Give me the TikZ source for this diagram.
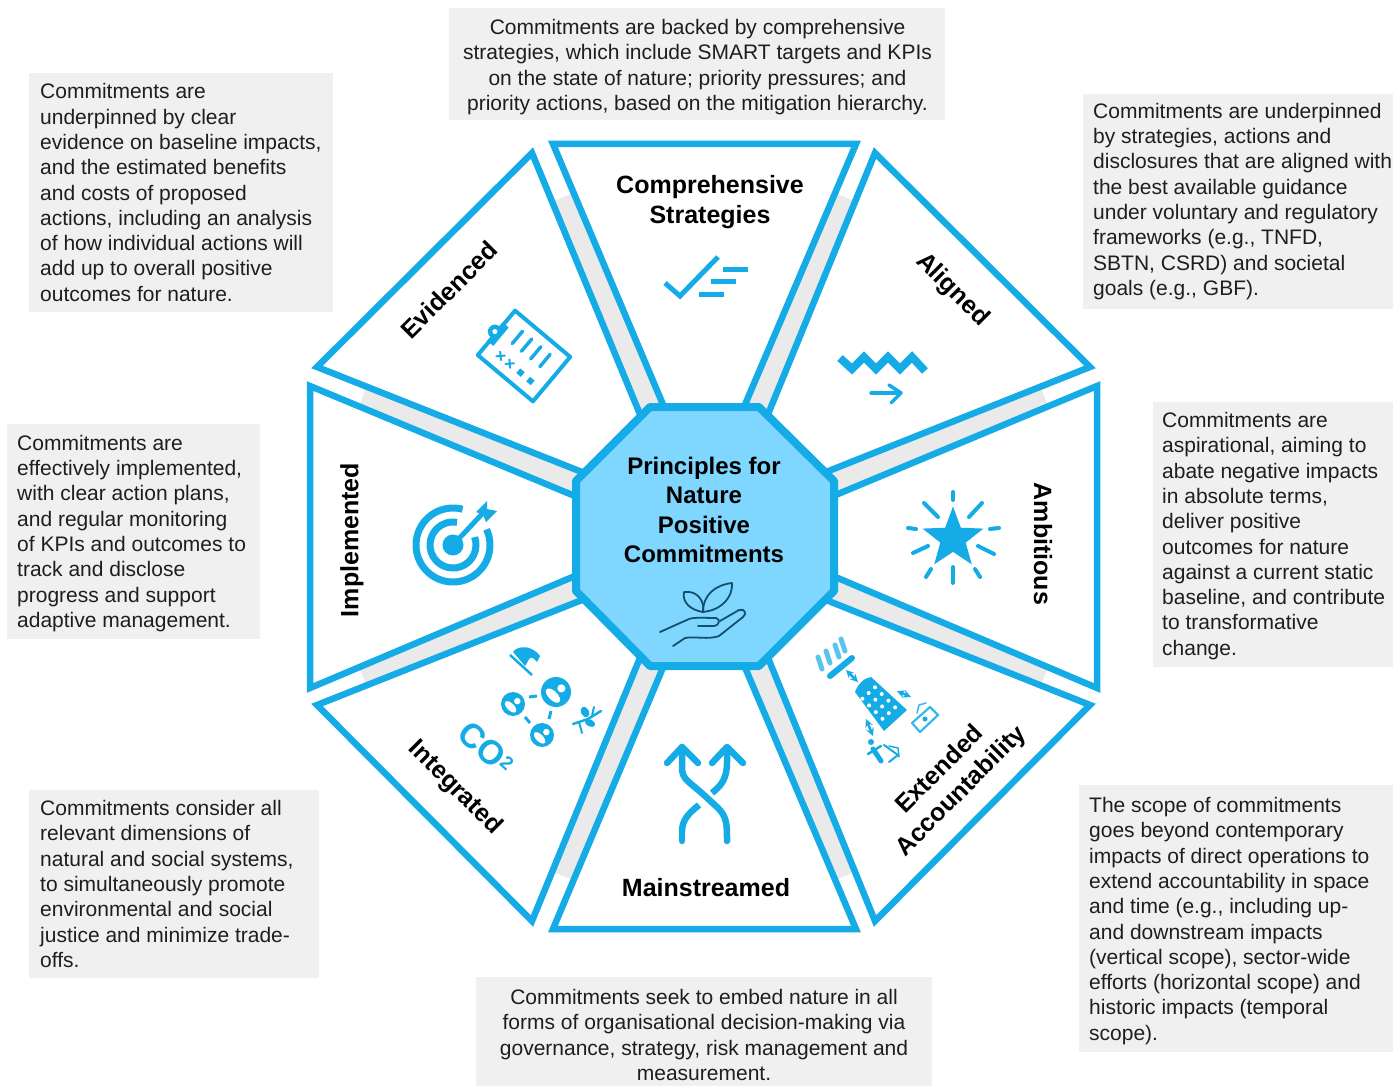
\documentclass[tikz,border=0pt]{standalone}
\usepackage{fontspec}
\setmainfont{Liberation Sans}
\usepackage{xcolor}
\usetikzlibrary{calc}
\usetikzlibrary{shapes.geometric}

\definecolor{natureblue}{HTML}{14ABE6}
\definecolor{centreblue}{HTML}{7FD7FF}
\definecolor{notegray}{HTML}{F0F0F0}
\definecolor{stripgray}{HTML}{EAEAEA}
\definecolor{handblue}{HTML}{14506E}
\definecolor{inktext}{HTML}{1E1E1E}

\begin{document}
\begin{tikzpicture}[x=1pt, y=-1pt, >=stealth,
    wedge/.style={draw=natureblue, line width=6.5pt, miter limit=20},
    strip/.style={fill=stripgray},
    notebg/.style={fill=notegray},
    note/.style={anchor=west, align=left, inner sep=0pt, text=inktext, font=\fontsize{21}{25.3}\selectfont},
    notemid/.style={note, anchor=center, align=center},
    title/.style={align=center, inner sep=0pt, text=black, font=\bfseries\fontsize{25}{30}\selectfont},
    icon/.style={draw=natureblue, line width=#1, line cap=round, line join=round},
    icon/.default=4pt,
    hand/.style={draw=handblue, line width=1.8pt, line cap=round, line join=round}
]
    \useasboundingbox (0,0) rectangle (1393,1086);

    % wedge corners, clockwise from the top
    \foreach \n/\ax/\ay/\bx/\by/\cx/\cy/\dx/\dy in {
        1/553/144/856/144/741/414/667/414,
        2/875/153/1090/367/816/476/764/424,
        3/1097/386/1097/688/826/573/826/499,
        4/1090/705/875/921/764/648/816/596,
        5/856/929/553/929/667/658/741/658,
        6/532/921/317/705/592/596/644/648,
        7/310/688/310/386/582/499/582/573,
        8/317/367/532/153/644/424/592/476}
    {
        \coordinate (w-\n-1) at (\ax,\ay);
        \coordinate (w-\n-2) at (\bx,\by);
        \coordinate (w-\n-3) at (\cx,\cy);
        \coordinate (w-\n-4) at (\dx,\dy);
    }

    % gray strips between the wedges
    \foreach \n in {1,2,3,4,5,6,7,8}
    {
        \pgfmathtruncatemacro{\nnext}{mod(\n,8)+1}
        \fill[strip] ($(w-\n-2)!0.18!(w-\n-3)$) -- (w-\n-3) -- (w-\nnext-4) -- ($(w-\nnext-1)!0.18!(w-\nnext-4)$) -- cycle;
    }

    \foreach \n in {1,2,3,4,5,6,7,8}
        \draw[wedge] (w-\n-1) -- (w-\n-2) -- (w-\n-3) -- (w-\n-4) -- cycle;

    % centre octagon
    \draw[draw=natureblue, fill=centreblue, line width=8pt, line join=round]
        (650,407) -- (759,407) -- (834,481) -- (834,591) -- (759,666) -- (650,666) -- (576,591) -- (576,481) -- cycle;
    \node[title, font=\bfseries\fontsize{24}{29.4}\selectfont] (centretitle) at (704,510) {Principles for\\Nature\\Positive\\Commitments};

    % plant in a hand
    \draw[hand] (684,592) .. controls (698,590) and (705,602) .. (703,612) .. controls (690,610) and (682,602) .. (684,592);
    \draw[hand] (703,612) .. controls (703,595) and (715,585) .. (732,583) .. controls (733,597) and (722,610) .. (703,612);
    \draw[hand] (660,632) -- (689,619) .. controls (695,617) and (705,618) .. (716,618) .. controls (721,619) and (719,626) .. (714,626) -- (698,626);
    \draw[hand] (720,621) -- (739,610) .. controls (745,608) and (747,614) .. (743,617) -- (719,636) .. controls (708,640) and (695,636) .. (685,638) -- (673,646);

    % wedge titles
    \node[title] (comprehensive) at (710,202) {Comprehensive\\Strategies};
    \node[title, rotate=-45] (aligned) at (952,290) {Aligned};
    \node[title, rotate=-90] (ambitious) at (1043,544) {Ambitious};
    \node[title, rotate=45] (extended) at (951,781) {Extended\\Accountability};
    \node[title] (mainstreamed) at (706,888) {Mainstreamed};
    \node[title, rotate=-45] (integrated) at (455,788) {Integrated};
    \node[title, rotate=90] (implemented) at (352,540) {Implemented};
    \node[title, rotate=45] (evidenced) at (449,290) {Evidenced};

    % check mark and bars
    \draw[icon=5pt, line cap=butt, line join=miter] (665,283) -- (680,296) -- (718,257);
    \foreach \ax/\bx/\y in {723/748/270, 711/736/282, 699/724/295}
        \draw[icon=5pt, line cap=butt] (\ax,\y) -- (\bx,\y);

    % clipboard
    \begin{scope}[shift={(524,356)}, rotate=50]
        \draw[icon=4pt] (-29,-36) rectangle (29,36);
        \fill[natureblue] (-12,-38) rectangle (12,-30);
        \fill[natureblue] (0,-38) circle[radius=7];
        \fill[white] (0,-38) circle[radius=2.5];
        \foreach \y in {-17,-5,7,19}
            \draw[icon=3.5pt] (2,\y) -- (18,\y);
        \foreach \y in {-18,-6}
        {
            \draw[icon=2pt] (-18,\y-3) -- (-12,\y+3);
            \draw[icon=2pt] (-18,\y+3) -- (-12,\y-3);
        }
        \foreach \y in {8,21}
            \fill[natureblue] (-18,\y-3) rectangle (-12,\y+3);
    \end{scope}

    % zigzag and arrow
    \draw[icon=8pt, line cap=butt, line join=miter] (840,358) -- (852,369) -- (864,357) -- (876,369) -- (888,357) -- (900,369) -- (912,357) -- (925,371);
    \draw[icon=3.5pt] (871,393) -- (900,393);
    \draw[icon=3.5pt] (889,385) -- (901,393) -- (891,403);

    % star and rays
    \node[star, star points=5, star point ratio=2.4, fill=natureblue, inner sep=0pt, minimum size=64pt] (starshape) at (953,538.5) {};
    \foreach \ax/\ay/\bx/\by in {953/492/953/500, 982/503/969/517, 990/529/999/528, 978/546/994/554, 975/569/980/577,
                                 953/567/953/583, 931/569/926/577, 928/546/913/553, 916/529/908/528, 938/517/924/503}
        \draw[icon=4pt] (\ax,\ay) -- (\bx,\by);

    % target
    \fill[natureblue] (453,545) circle[radius=10.5];
    \draw[icon=7pt, line cap=butt] (453,545) ++(-25:37) arc[start angle=-25, end angle=285, radius=37];
    \draw[icon=7pt, line cap=butt] (453,545) ++(-20:23) arc[start angle=-20, end angle=280, radius=23];
    \draw[icon=5pt, line cap=butt] (453,545) -- (482,514);
    \fill[natureblue] (476,512) -- (487,501) -- (487,509) -- (497,511) -- (486,522) -- (483,515) -- cycle;

    % crossing arrows
    \draw[icon=6.5pt] (682,747) -- (682,768) .. controls (682,780) and (690,782) .. (705,796) -- (718,808) .. controls (727,817) and (727,825) .. (727,841);
    \draw[icon=6.5pt] (667,763) -- (682,747) -- (698,763);
    \draw[icon=6.5pt, line cap=butt] (727,747) -- (727,762) .. controls (727,778) and (722,785) .. (712,793);
    \draw[icon=6.5pt] (712,763) -- (727,747) -- (743,763);
    \draw[icon=6.5pt, line cap=butt] (699,805) .. controls (688,814) and (682,820) .. (682,832);
    \draw[icon=6.5pt] (682,830) -- (682,841);

    % building, value chain and people
    \draw[icon=6pt] (830,676) -- (852,658);
    \foreach \ax/\ay/\bx/\by in {822/669/818/657, 830/663/826/651, 839/657/835/645, 845/651/841/639}
        \draw[icon=5pt, natureblue!70] (\ax,\ay) -- (\bx,\by);
    \draw[<->, icon=2.5pt] (846,670) -- (858,682);
    \fill[natureblue] (855,692) .. controls (858,684) and (864,678) .. (871,677) -- (907,710) -- (884,731) -- cycle;
    \foreach \i in {0,1,2,3}
        \foreach \j in {0,1,2}
            \fill[white] ({875+6.7*\i-6.3*\j},{687.3+6.7*\i+5.7*\j}) circle[radius=2];
    \draw[<->, icon=2.5pt] (897,691) -- (911,697);
    \draw[<->, icon=2.5pt] (866,719) -- (873,736);
    \draw[icon=2.2pt, natureblue!85] (912,723) -- (930,707) -- (938,715) -- (920,732) -- cycle;
    \draw[icon=1.5pt, natureblue!85] (917,713) -- (919,705) -- (926,703);
    \fill[natureblue] (925,719) circle[radius=2.5];
    \fill[natureblue] (871,742) circle[radius=3];
    \draw[icon=5pt] (873,749) -- (881,761);
    \draw[icon=2.5pt] (881,746) -- (868,754);
    \draw[icon=2pt] (884,745) -- (898,755) -- (889,762);
    \draw[icon=1.5pt] (889,746) -- (898,748) -- (899,757);

    % wave, people and plant
    \draw[icon=2.5pt, line cap=butt] (510,655) -- (532,675);
    \fill[natureblue] (513,652) .. controls (518,645) and (532,645) .. (540,656) -- (537,662) .. controls (534,658) and (531,657) .. (530,658) .. controls (528,660) and (527,664) .. (525,666) -- cycle;
    \foreach \px/\py/\r in {556/692/15, 513/704/12, 542/735/12}
    {
        \fill[natureblue] (\px,\py) circle[radius=\r];
        \fill[white] ({\px+0.36*\r},{\py-0.24*\r}) circle[radius=0.27*\r];
        \fill[white, rotate around={-45:({\px-0.2*\r},{\py+0.24*\r})}] ({\px-0.2*\r},{\py+0.24*\r}) ellipse[x radius=0.6*\r, y radius=0.3*\r];
    }
    \draw[icon=3pt, line cap=butt] (529,697) -- (537,696);
    \draw[icon=3pt, line cap=butt] (525,717) -- (530,723);
    \draw[icon=3pt, line cap=butt] (551,711) -- (549,719);
    \node[inner sep=0pt, text=natureblue, rotate=-42, font=\bfseries\fontsize{34}{34}\selectfont] (cotwo) at (486,748) {CO\raisebox{.45ex}{\fontsize{19}{19}\selectfont 2}};
    \draw[icon=2.5pt] (573,724) -- (588,719) -- (601,711);
    \draw[icon=2pt] (579,722) -- (582,733);
    \draw[icon=2pt] (592,716) -- (594,707);
    \fill[natureblue, rotate around={-60:(585,712)}] (585,712) ellipse[x radius=5.5, y radius=4];
    \fill[natureblue, rotate around={-25:(590,723)}] (590,723) ellipse[x radius=5.5, y radius=3.5];

    % note backgrounds
    \foreach \ax/\ay/\bx/\by in {449/8/945/120, 29/73/333/312, 1083/94/1393/309, 7/424/260/639,
                                 1153/402/1393/667, 29/790/319/978, 1079/785/1393/1052, 476/977/932/1086}
        \fill[notebg] (\ax,\ay) rectangle (\bx,\by);

    % notes
    \node[notemid] (notecomprehensive) at (697.5,67) {Commitments are backed by comprehensive\\strategies, which include SMART targets and KPIs\\on the state of nature; priority pressures; and\\priority actions, based on the mitigation hierarchy.};
    \node[note] (noteevidenced) at (40,192.5) {Commitments are\\underpinned by clear\\evidence on baseline impacts,\\and the estimated benefits\\and costs of proposed\\actions, including an analysis\\of how individual actions will\\add up to overall positive\\outcomes for nature.};
    \node[note] (notealigned) at (1093,201.5) {Commitments are underpinned\\by strategies, actions and\\disclosures that are aligned with\\the best available guidance\\under voluntary and regulatory\\frameworks (e.g., TNFD,\\SBTN, CSRD) and societal\\goals (e.g., GBF).};
    \node[note] (noteimplemented) at (17,533.5) {Commitments are\\effectively implemented,\\with clear action plans,\\and regular monitoring\\of KPIs and outcomes to\\track and disclose\\progress and support\\adaptive management.};
    \node[note] (noteambitious) at (1162,536) {Commitments are\\aspirational, aiming to\\abate negative impacts\\in absolute terms,\\deliver positive\\outcomes for nature\\against a current static\\baseline, and contribute\\to transformative\\change.};
    \node[note] (noteintegrated) at (40,884) {Commitments consider all\\relevant dimensions of\\natural and social systems,\\to simultaneously promote\\environmental and social\\justice and minimize trade-\\offs.};
    \node[note] (noteextended) at (1089,921) {The scope of commitments\\goes beyond contemporary\\impacts of direct operations to\\extend accountability in space\\and time (e.g., including up-\\and downstream impacts\\(vertical scope), sector-wide\\efforts (horizontal scope) and\\historic impacts (temporal\\scope).};
    \node[notemid] (notemainstreamed) at (704,1035) {Commitments seek to embed nature in all\\forms of organisational decision-making via\\governance, strategy, risk management and\\measurement.};
\end{tikzpicture}
\end{document}
